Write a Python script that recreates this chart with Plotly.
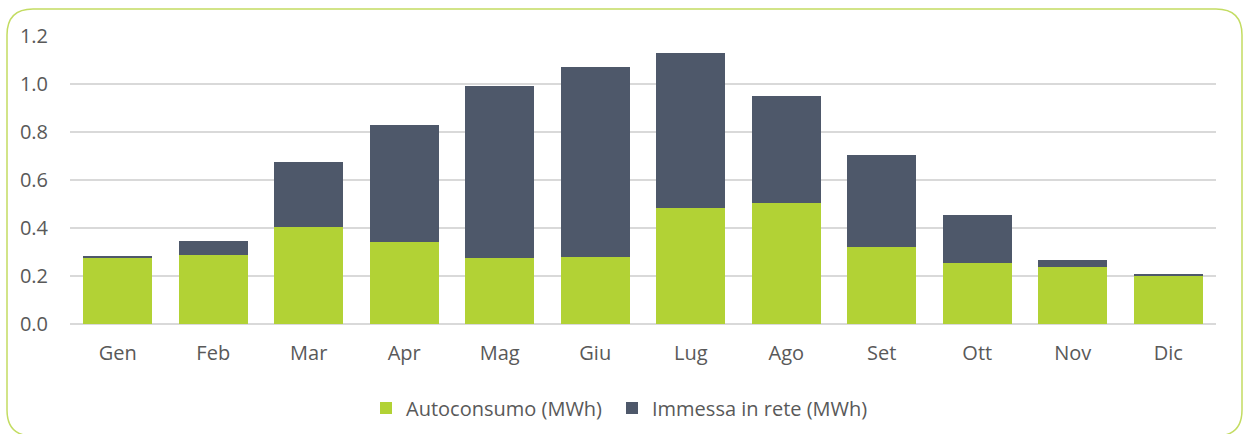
import plotly.graph_objects as go

months = ["Gen", "Feb", "Mar", "Apr", "Mag", "Giu", "Lug", "Ago", "Set", "Ott", "Nov", "Dic"]
autoconsumo = [0.275, 0.286, 0.403, 0.340, 0.275, 0.278, 0.482, 0.503, 0.320, 0.253, 0.236, 0.203]
immessa = [0.007, 0.059, 0.271, 0.488, 0.715, 0.792, 0.646, 0.446, 0.383, 0.200, 0.029, 0.004]
y_ticks = [0.0, 0.2, 0.4, 0.6, 0.8, 1.0, 1.2]

W, H = 1243, 434
L, R, T, B = 70, 27, 36, 110
PW, PH = W - L - R, H - T - B

def px(x):
    return (x - L) / PW

def py(y):
    return (H - B - y) / PH

GREEN = "#b2d235"
DARK = "#4e586a"
TXT = "#595959"
FONT = "Open Sans"
FS = 20

fig = go.Figure()
fig.add_trace(go.Bar(x=months, y=autoconsumo, name="Autoconsumo (MWh)", legend="legend",
                     marker=dict(color=GREEN, line=dict(width=0))))
fig.add_trace(go.Bar(x=months, y=immessa, name="Immessa in rete (MWh)", legend="legend2",
                     marker=dict(color=DARK, line=dict(width=0))))

# rounded border
l, r, t, b, rad = 7, 1242, 9, 436, 26
path = (
    f"M {px(l)},{py(t+rad)} Q {px(l)},{py(t)} {px(l+rad)},{py(t)} "
    f"L {px(r-rad)},{py(t)} Q {px(r)},{py(t)} {px(r)},{py(t+rad)} "
    f"L {px(r)},{py(b-rad)} Q {px(r)},{py(b)} {px(r-rad)},{py(b)} "
    f"L {px(l+rad)},{py(b)} Q {px(l)},{py(b)} {px(l)},{py(b-rad)} Z"
)

leg_common = dict(orientation="h", xanchor="left", y=py(408), yanchor="middle",
                  font=dict(family=FONT, size=FS, color=TXT), itemwidth=30,
                  bgcolor="rgba(0,0,0,0)")

fig.update_layout(
    width=W, height=H,
    margin=dict(l=L, r=R, t=T, b=B, autoexpand=False),
    barmode="stack",
    bargap=0.28,
    plot_bgcolor="white",
    paper_bgcolor="white",
    font=dict(family=FONT, size=FS, color=TXT),
    showlegend=True,
    legend=dict(x=px(366), **leg_common),
    legend2=dict(x=px(612), **leg_common),
    shapes=[dict(type="path", xref="paper", yref="paper", path=path,
                 line=dict(color="#c3dc62", width=1.5), fillcolor="rgba(0,0,0,0)", layer="below")],
    xaxis=dict(showgrid=False, showline=False, ticks="", tickfont=dict(size=FS, color=TXT),
               ticklabelstandoff=15, fixedrange=True),
    yaxis=dict(range=[0, 1.2], tickvals=y_ticks, ticktext=[f"{v:.1f}" for v in y_ticks],
               showgrid=True, gridcolor="#d9d9d9", gridwidth=2, zeroline=True,
               zerolinecolor="#d9d9d9", zerolinewidth=2, showline=False, ticks="",
               tickfont=dict(size=FS, color=TXT), ticklabelstandoff=21, fixedrange=True),
)

fig.write_html("out.html", config={"displayModeBar": False},
               post_script="document.body.style.margin='0';")
